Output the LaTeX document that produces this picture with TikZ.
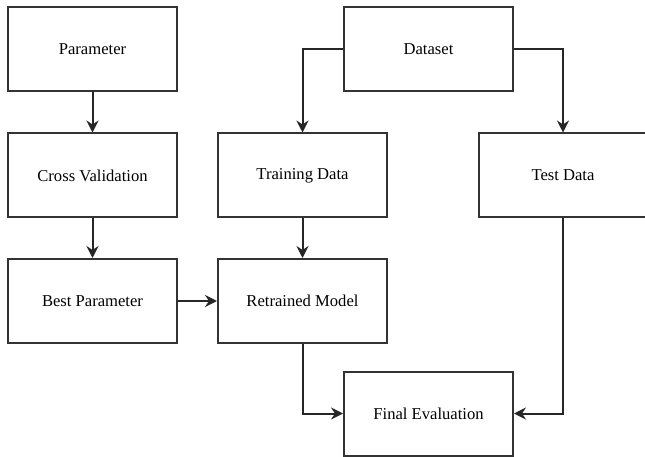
\documentclass[tikz,border=0pt]{standalone}
\usepackage{fontspec}
\setmainfont{Liberation Serif}
\usetikzlibrary{arrows.meta}
\begin{document}
\begin{tikzpicture}[x=1pt,y=-1pt,
  stagebox/.style={draw=black!80,line width=2pt,fill=white,minimum width=169pt,minimum height=84pt,inner sep=0pt,font=\fontsize{16.6}{19}\selectfont},
  flow/.style={draw=black!85,line width=2pt,-{Stealth[length=12pt,width=12pt,inset=4pt]}}]
  \useasboundingbox (0,0) rectangle (645,457);
  \fill[white] (0,0) rectangle (645,457);
  % left column: parameter search
  \node[stagebox] (param) at (92.5,49) {Parameter};
  \node[stagebox] (cv)    at (92.5,175.5) {Cross Validation};
  \node[stagebox] (best)  at (92.5,301) {Best Parameter};
  % data split and model
  \node[stagebox] (data)  at (428.5,49) {Dataset};
  \node[stagebox] (train) at (302.5,175.5) {Training Data};
  \node[stagebox] (model) at (302.5,301) {Retrained Model};
  \node[stagebox] (test)  at (563,175.5) {Test Data};
  \node[stagebox] (final) at (428.5,413.5) {Final Evaluation};
  % connectors
  \draw[flow] (param) -- (cv);
  \draw[flow] (cv) -- (best);
  \draw[flow] (best) -- (model);
  \draw[flow] (train) -- (model);
  \draw[flow] (data.west) -| (train.north);
  \draw[flow] (data.east) -| (test.north);
  \draw[flow] (model.south) |- (final.west);
  \draw[flow] (test.south) |- (final.east);
\end{tikzpicture}
\end{document}
